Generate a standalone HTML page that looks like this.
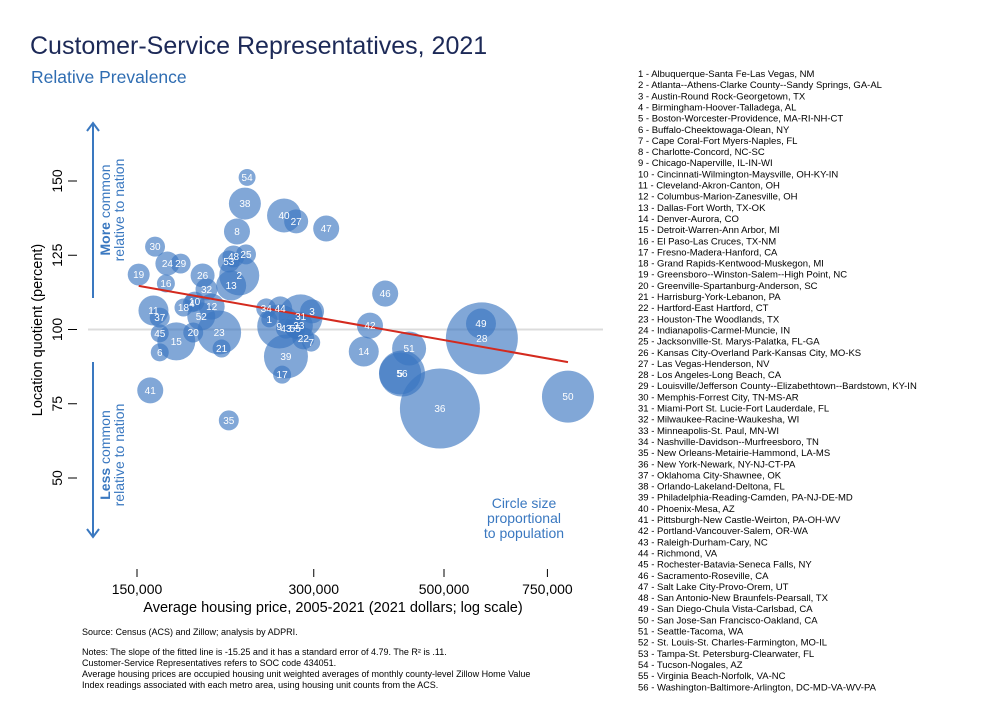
<!DOCTYPE html>
<html><head><meta charset="utf-8"><style>
body{margin:0;background:#fff;width:1000px;height:727px;overflow:hidden;font-family:"Liberation Sans",Arial,sans-serif}
svg{display:block}
</style></head><body>
<svg id="chart" width="1000" height="727" viewBox="0 0 1000 727" xmlns="http://www.w3.org/2000/svg" font-family="Liberation Sans, Arial, sans-serif">
<text x="30" y="54" font-size="25" fill="#1c2957">Customer-Service Representatives, 2021</text>
<text x="31" y="83" font-size="17.5" fill="#2f6db2">Relative Prevalence</text>
<line x1="88" y1="329.5" x2="603" y2="329.5" stroke="#dcdcdc" stroke-width="2"/>
<g id="yticks"></g>
<g id="xticks"></g>
<text transform="translate(42,330) rotate(-90)" text-anchor="middle" font-size="14.5" fill="#000">Location quotient (percent)</text>
<text x="333" y="612" text-anchor="middle" font-size="14.5" fill="#000">Average housing price, 2005-2021 (2021 dollars; log scale)</text>
<g stroke="#3a78c0" stroke-width="2" fill="none">
<line x1="93" y1="123" x2="93" y2="298"/><polyline points="87,131 93,123 99,131"/>
</g>
<g stroke="#3a78c0" stroke-width="2" fill="none">
<line x1="93" y1="362" x2="93" y2="537"/><polyline points="87,529 93,537 99,529"/>
</g>
<text transform="translate(110,210) rotate(-90)" text-anchor="middle" font-size="14" fill="#3a78c0"><tspan font-weight="bold">More</tspan> common</text>
<text transform="translate(124,210) rotate(-90)" text-anchor="middle" font-size="14" fill="#3a78c0">relative to nation</text>
<text transform="translate(110,455) rotate(-90)" text-anchor="middle" font-size="14" fill="#3a78c0"><tspan font-weight="bold">Less</tspan> common</text>
<text transform="translate(124,455) rotate(-90)" text-anchor="middle" font-size="14" fill="#3a78c0">relative to nation</text>
<g id="bubbles"></g>
<line id="fit" stroke="#d42a1e" stroke-width="2"/>
<g id="labels"></g>
<g font-size="14" fill="#3a78c0" text-anchor="middle">
<text x="524" y="508">Circle size</text><text x="524" y="523">proportional</text><text x="524" y="538">to population</text>
</g>
<g font-size="9" fill="#000">
<text x="82" y="635">Source: Census (ACS) and Zillow; analysis by ADPRI.</text>
<text x="82" y="655">Notes: The slope of the fitted line is -15.25 and it has a standard error of 4.79. The R² is .11.</text>
<text x="82" y="666">Customer-Service Representatives refers to SOC code 434051.</text>
<text x="82" y="677">Average housing prices are occupied housing unit weighted averages of monthly county-level Zillow Home Value</text>
<text x="82" y="688">Index readings associated with each metro area, using housing unit counts from the ACS.</text>
</g>
<g id="legend" font-size="9.5" fill="#000"></g>
</svg>
<script>
const ids=[54,38,40,27,47,8,30,24,29,48,53,25,19,26,2,16,13,32,10,18,4,12,11,37,34,44,52,1,45,20,23,15,9,43,33,55,31,3,22,7,6,21,39,17,41,35,46,42,14,51,56,5,36,49,28,50];
const prices=[231,229,267,280,315,222,161,169,178,219,215,230,151,194,224,168,217,197,188,180,186,201,160,164,249,263,193,252,164,187,207,175,262,269,283,279,285,298,288,297,164,209,269,265,158,215,397,374,365,436,424,421,492,578,580,813];
const lqs=[151.2,142.4,138.4,136.4,134.0,133.0,127.9,122.2,122.2,124.6,122.9,125.3,118.5,118.2,118.2,115.5,114.8,113.5,109.4,107.4,108.8,107.7,106.4,104.0,107.1,107.1,104.4,103.4,98.7,99.0,99.0,96.0,101.0,100.3,101.3,100.3,104.4,106.1,97.0,95.6,92.3,93.6,90.9,84.8,79.5,69.4,112.1,101.3,92.6,93.6,85.2,85.2,73.4,102.0,97.0,77.4];
const pops=[0.89,3.16,3.57,1.78,2.09,2.09,1.23,1.78,1.23,1.49,1.49,1.23,1.49,1.78,4.94,1.0,2.78,1.49,1.23,1.0,1.0,2.09,2.78,1.23,1.23,1.78,2.42,0.79,1.0,1.23,5.98,4.46,5.98,1.23,2.42,1.23,5.98,1.78,1.49,1.0,1.0,1.0,5.98,1.0,2.09,1.23,2.09,2.09,2.78,3.57,6.53,5.44,19.75,2.78,16.0,8.35];
const xTicks=[150,300,500,750];
const xTickLabels=["150,000","300,000","500,000","750,000"];
const yTicks=[50,75,100,125,150];
const fitIntercept=114.8, fitSlope=-15.25;
const names=["Albuquerque-Santa Fe-Las Vegas, NM","Atlanta--Athens-Clarke County--Sandy Springs, GA-AL","Austin-Round Rock-Georgetown, TX","Birmingham-Hoover-Talladega, AL","Boston-Worcester-Providence, MA-RI-NH-CT","Buffalo-Cheektowaga-Olean, NY","Cape Coral-Fort Myers-Naples, FL","Charlotte-Concord, NC-SC","Chicago-Naperville, IL-IN-WI","Cincinnati-Wilmington-Maysville, OH-KY-IN","Cleveland-Akron-Canton, OH","Columbus-Marion-Zanesville, OH","Dallas-Fort Worth, TX-OK","Denver-Aurora, CO","Detroit-Warren-Ann Arbor, MI","El Paso-Las Cruces, TX-NM","Fresno-Madera-Hanford, CA","Grand Rapids-Kentwood-Muskegon, MI","Greensboro--Winston-Salem--High Point, NC","Greenville-Spartanburg-Anderson, SC","Harrisburg-York-Lebanon, PA","Hartford-East Hartford, CT","Houston-The Woodlands, TX","Indianapolis-Carmel-Muncie, IN","Jacksonville-St. Marys-Palatka, FL-GA","Kansas City-Overland Park-Kansas City, MO-KS","Las Vegas-Henderson, NV","Los Angeles-Long Beach, CA","Louisville/Jefferson County--Elizabethtown--Bardstown, KY-IN","Memphis-Forrest City, TN-MS-AR","Miami-Port St. Lucie-Fort Lauderdale, FL","Milwaukee-Racine-Waukesha, WI","Minneapolis-St. Paul, MN-WI","Nashville-Davidson--Murfreesboro, TN","New Orleans-Metairie-Hammond, LA-MS","New York-Newark, NY-NJ-CT-PA","Oklahoma City-Shawnee, OK","Orlando-Lakeland-Deltona, FL","Philadelphia-Reading-Camden, PA-NJ-DE-MD","Phoenix-Mesa, AZ","Pittsburgh-New Castle-Weirton, PA-OH-WV","Portland-Vancouver-Salem, OR-WA","Raleigh-Durham-Cary, NC","Richmond, VA","Rochester-Batavia-Seneca Falls, NY","Sacramento-Roseville, CA","Salt Lake City-Provo-Orem, UT","San Antonio-New Braunfels-Pearsall, TX","San Diego-Chula Vista-Carlsbad, CA","San Jose-San Francisco-Oakland, CA","Seattle-Tacoma, WA","St. Louis-St. Charles-Farmington, MO-IL","Tampa-St. Petersburg-Clearwater, FL","Tucson-Nogales, AZ","Virginia Beach-Norfolk, VA-NC","Washington-Baltimore-Arlington, DC-MD-VA-WV-PA"];
const NS="http://www.w3.org/2000/svg";
const xs=p=>137+255*Math.log(p/150);
const ys=v=>329.5-2.97*(v-100);
const rs=pop=>9*Math.sqrt(pop);
function mk(tag,attrs,parent){const e=document.createElementNS(NS,tag);for(const k in attrs)e.setAttribute(k,attrs[k]);parent.appendChild(e);return e;}
const yg=document.getElementById('yticks');
yTicks.forEach(v=>{
 const t=mk('line',{x1:68,x2:77,y1:ys(v),y2:ys(v),stroke:'#000','stroke-width':1},yg);
 
 
 const l=mk('text',{transform:`translate(62,${ys(v)}) rotate(-90)`,'text-anchor':'middle','font-size':14},yg);
 l.textContent=v;
 
 
});
const xg=document.getElementById('xticks');
xTicks.forEach((v,i)=>{
 const t=mk('line',{x1:xs(v),x2:xs(v),y1:569,y2:577,stroke:'#000','stroke-width':1},xg);
 
 
 const l=mk('text',{x:xs(v),y:594,'text-anchor':'middle','font-size':14},xg);
 l.textContent=xTickLabels[i];
 
 
});
const bg=document.getElementById('bubbles'),lg=document.getElementById('labels');
ids.forEach((id,i)=>{
 const c=mk('circle',{cx:xs(prices[i]),cy:ys(lqs[i]),r:rs(pops[i]),fill:'rgba(58,118,192,0.64)'},bg);
 
 
 const t=mk('text',{x:xs(prices[i]),y:ys(lqs[i])+3.5,'text-anchor':'middle','font-size':10,fill:'#fff'},lg);
 t.textContent=id;
 
 
});
const pmin=Math.min(...prices),pmax=Math.max(...prices);
const f=document.getElementById('fit');
f.setAttribute('x1',xs(pmin));f.setAttribute('x2',xs(pmax));
f.setAttribute('y1',ys(fitIntercept+fitSlope*Math.log(pmin/150)));
f.setAttribute('y2',ys(fitIntercept+fitSlope*Math.log(pmax/150)));
const leg=document.getElementById('legend');
names.forEach((n,i)=>{
 const t=mk('text',{x:638,y:77+i*11.15},leg);
 t.textContent=(i+1)+' - '+n;
 
 
});
</script>
</body></html>
